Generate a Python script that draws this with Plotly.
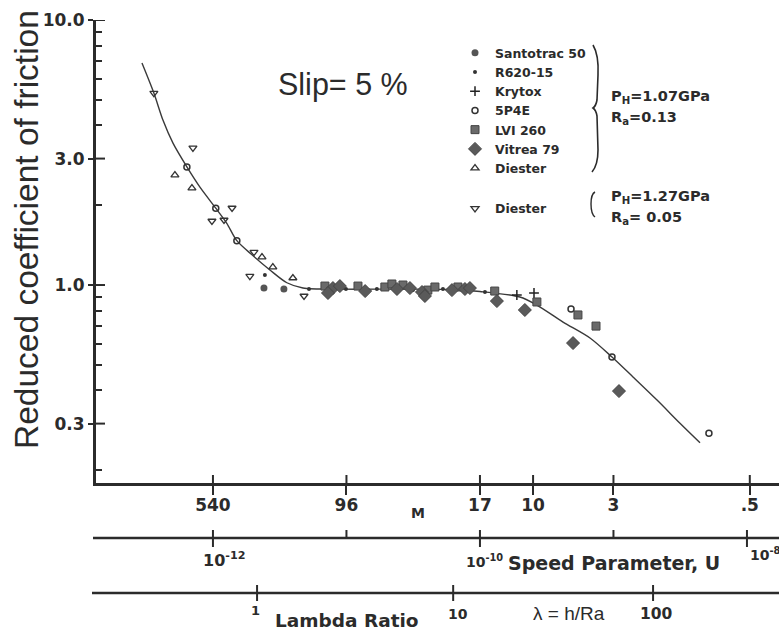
import math
import plotly.graph_objects as go

# ---------------- data (U = speed parameter, f = reduced coefficient of friction)
santotrac_u = [2.41e-12, 3.40e-12]
santotrac_f = [0.974, 0.966]

r620_u = [2.45e-12, 5.24e-12, 9.91e-12, 1.69e-11, 3.15e-11, 5.28e-11, 1.09e-10]
r620_f = [1.091, 0.966, 0.966, 0.966, 0.957, 0.966, 0.941]

krytox_u = [1.89e-10, 2.54e-10]
krytox_f = [0.917, 0.933]

p5p4e_u = [6.38e-13, 1.05e-12, 1.51e-12, 4.81e-10, 9.75e-10, 5.19e-9]
p5p4e_f = [2.79, 1.95, 1.47, 0.812, 0.535, 0.276]

lvi_u = [6.90e-12, 1.22e-11, 1.94e-11, 2.19e-11, 2.65e-11, 4.07e-11, 4.60e-11,
         6.84e-11, 1.29e-10, 2.67e-10, 5.42e-10, 7.40e-10]
lvi_f = [0.991, 0.991, 0.983, 1.009, 1.000, 0.957, 0.983,
         0.983, 0.949, 0.863, 0.771, 0.700]

vitrea_u = [7.92e-12, 7.27e-12, 8.93e-12, 1.38e-11, 2.39e-11, 2.99e-11, 3.68e-11,
            3.87e-11, 6.17e-11, 7.72e-11, 8.41e-11, 1.34e-10, 2.17e-10, 4.98e-10, 1.10e-9]
vitrea_f = [0.974, 0.933, 0.991, 0.949, 0.966, 0.974, 0.941,
            0.909, 0.957, 0.966, 0.974, 0.870, 0.805, 0.604, 0.398]

diester107_u = [5.19e-13, 6.96e-13, 2.33e-12, 2.81e-12, 3.97e-12]
diester107_f = [2.60, 2.32, 1.275, 1.169, 1.063]

diester127_u = [3.61e-13, 7.08e-13, 1.39e-12, 9.83e-13, 1.21e-12, 2.03e-12, 1.89e-12, 4.81e-12]
diester127_f = [5.30, 3.29, 1.953, 1.744, 1.759, 1.332, 1.081, 0.909]

curve_u = [2.94e-13, 3.61e-13, 4.22e-13, 5.02e-13, 6.38e-13, 7.99e-13, 1.05e-12, 1.27e-12,
           1.51e-12, 1.96e-12, 2.67e-12, 3.58e-12, 4.72e-12, 8.94e-12, 2.52e-11, 5.96e-11,
           1.0e-10, 1.99e-10, 2.67e-10, 4.19e-10, 6.67e-10, 9.75e-10, 1.40e-9, 2.12e-9,
           3.15e-9, 4.45e-9]
curve_f = [6.88, 5.30, 4.19, 3.43, 2.79, 2.34, 1.95, 1.71,
           1.47, 1.30, 1.14, 1.02, 0.975, 0.965, 0.965, 0.962,
           0.945, 0.901, 0.840, 0.725, 0.631, 0.535, 0.450, 0.368,
           0.301, 0.254]

# axis tick data
Y_TICKS = [0.3, 1.0, 3.0, 10.0]
Y_TICK_TEXT = ["0.3", "1.0", "3.0", "10.0"]
Y_MINOR = [0.2, 0.4, 0.5, 0.6, 0.7, 0.8, 0.9, 2, 4, 5, 6, 7, 8, 9]

M_LABELS = ["540", "96", "17", "10", "3", ".5"]
M_TICK_U = [1.0e-12, 1.0e-11, 1.0e-10, 2.5e-10, 1.0e-9, 1.05e-8]

U_TICK_U = [1e-12, 1e-11, 1e-10, 1e-9, 1e-8]
U_TICK_TEXT = ["10<sup>-12</sup>", "", "10<sup>-10</sup>", "", "10<sup>-8</sup>"]

LAMBDA_LABELS = ["1", "10", "100"]
LAMBDA_TICK_U = [2.14e-12, 6.3e-11, 1.98e-9]

# ---------------- layout helpers (pixel -> paper)
W, H = 779, 632
ML, MR, MT, MB = 96, 0, 20, 149
PW, PH = W - ML - MR, H - MT - MB


def px(x):
    return (x - ML) / PW


def py(y):
    return (H - MB - y) / PH


INK = "#2b2b2b"
BOLD = dict(family="DejaVu Sans", weight="bold", color=INK)

fig = go.Figure()

fig.add_trace(go.Scatter(x=curve_u, y=curve_f, mode="lines", showlegend=False,
                         line=dict(color="#3a3a3a", width=1.4, shape="spline", smoothing=0.8),
                         hoverinfo="skip"))

series = [
    ("Santotrac 50", santotrac_u, santotrac_f, dict(symbol="circle", size=7, color="#555555"), "g1"),
    ("R620-15", r620_u, r620_f, dict(symbol="circle", size=4, color="#333333"), "g1"),
    ("Krytox", krytox_u, krytox_f, dict(symbol="cross-thin", size=7, color="#222222",
                                       line=dict(width=1.5, color="#222222")), "g1"),
    ("5P4E", p5p4e_u, p5p4e_f, dict(symbol="circle-open", size=6, color="#333333",
                                   line=dict(width=1.5, color="#333333")), "g1"),
    ("LVI 260", lvi_u, lvi_f, dict(symbol="square", size=8, color="#6a6a6a",
                                  line=dict(width=1, color="#444444")), "g1"),
    ("Vitrea 79", vitrea_u, vitrea_f, dict(symbol="diamond", size=10, color="#5a5a5a",
                                          line=dict(width=1, color="#444444")), "g1"),
    ("Diester", diester107_u, diester107_f, dict(symbol="triangle-up-open", size=7, color="#333333",
                                                line=dict(width=1.3, color="#333333")), "g1"),
    ("Diester", diester127_u, diester127_f, dict(symbol="triangle-down-open", size=7, color="#333333",
                                                line=dict(width=1.3, color="#333333")), "g2"),
]
for name, xs, ys, mk, grp in series:
    fig.add_trace(go.Scatter(x=xs, y=ys, mode="markers", name=name, marker=mk,
                             legendgroup=grp))

shapes = []
annotations = []

# inside part of major y ticks
for v in Y_TICKS:
    shapes.append(dict(type="line", xref="paper", yref="y", x0=0, x1=9 / PW, y0=v, y1=v,
                       line=dict(color=INK, width=2)))
# inside part of major x (M) ticks
for v in M_TICK_U:
    shapes.append(dict(type="line", xref="x", yref="paper", x0=v, x1=v, y0=0, y1=8 / PH,
                       line=dict(color=INK, width=2)))

# Speed-parameter axis
shapes.append(dict(type="line", xref="paper", yref="paper", x0=px(93), x1=1, y0=py(538), y1=py(538),
                   line=dict(color=INK, width=2.5)))
for v, t in zip(U_TICK_U, U_TICK_TEXT):
    if t:
        y0, y1 = py(530), py(547)
    else:
        y0, y1 = py(530), py(538)
    shapes.append(dict(type="line", xref="x", yref="paper", x0=v, x1=v, y0=y0, y1=y1,
                       line=dict(color=INK, width=2)))
u_label_shift = {0: (-12, -1, 16), 2: (-16, -3, 14), 4: (1, 4, 14)}
for i, (v, t) in enumerate(zip(U_TICK_U, U_TICK_TEXT)):
    if not t:
        continue
    dx, dy, fs = u_label_shift[i]
    annotations.append(dict(x=math.log10(v), y=py(558), xref="x", yref="paper", text=t,
                            showarrow=False, xanchor="left", yanchor="middle",
                            xshift=dx, yshift=dy, font=dict(size=fs, **BOLD)))
annotations.append(dict(x=px(506), y=py(563), xref="paper", yref="paper",
                        text="Speed Parameter, U", showarrow=False, xanchor="left",
                        yanchor="middle", font=dict(size=19, **BOLD)))

# Lambda axis
shapes.append(dict(type="line", xref="paper", yref="paper", x0=px(92), x1=1, y0=py(593), y1=py(593),
                   line=dict(color=INK, width=2.5)))
for v in LAMBDA_TICK_U:
    shapes.append(dict(type="line", xref="x", yref="paper", x0=v, x1=v, y0=py(585), y1=py(601),
                       line=dict(color=INK, width=2)))
lam_label_cfg = [(-2, 610, 13), (5, 614, 14), (3, 614, 15.5)]
for v, t, (dx, yy, fs) in zip(LAMBDA_TICK_U, LAMBDA_LABELS, lam_label_cfg):
    annotations.append(dict(x=math.log10(v), y=py(yy), xref="x", yref="paper", text=t,
                            showarrow=False, xanchor="center", yanchor="middle", xshift=dx,
                            font=dict(size=fs, **BOLD)))
annotations.append(dict(x=px(273), y=py(620), xref="paper", yref="paper", text="Lambda Ratio",
                        showarrow=False, xanchor="left", yanchor="middle",
                        font=dict(size=18.5, **BOLD)))
annotations.append(dict(x=px(531), y=py(613), xref="paper", yref="paper", text="λ = h/Ra",
                        showarrow=False, xanchor="left", yanchor="middle",
                        font=dict(size=19, family="Liberation Sans", color=INK)))

# M label
annotations.append(dict(x=px(418), y=py(513), xref="paper", yref="paper", text="M",
                        showarrow=False, xanchor="center", yanchor="middle",
                        font=dict(size=14, **BOLD)))

# Y title and slip text
annotations.append(dict(x=px(26), y=py(230), xref="paper", yref="paper",
                        text="Reduced coefficient of friction", textangle=-90, showarrow=False,
                        xanchor="center", yanchor="middle",
                        font=dict(size=33.5, family="Liberation Sans", color=INK)))
annotations.append(dict(x=px(276), y=py(84), xref="paper", yref="paper", text="Slip= 5 %",
                        showarrow=False, xanchor="left", yanchor="middle",
                        font=dict(size=30.5, family="Liberation Sans", color=INK)))

# braces and conditions
brace1 = "M {} {} Q {} {} {} {} L {} {} Q {} {} {} {} Q {} {} {} {} L {} {} Q {} {} {} {}"
pts = [(593, 45), (599, 55), (598, 75), (597, 100), (596, 106), (593, 108),
       (596, 110), (597, 116), (598, 150), (598, 165), (592, 172)]
vals = []
for (a, b) in pts:
    vals += [px(a), py(b)]
shapes.append(dict(type="path", xref="paper", yref="paper", path=brace1.format(*vals),
                   line=dict(color=INK, width=1.6)))
brace2 = "M {} {} Q {} {} {} {} Q {} {} {} {}"
pts2 = [(595, 192), (591, 194), (591, 204), (591, 214), (595, 217)]
vals2 = []
for (a, b) in pts2:
    vals2 += [px(a), py(b)]
shapes.append(dict(type="path", xref="paper", yref="paper", path=brace2.format(*vals2),
                   line=dict(color=INK, width=1.4)))

cond = [("P<sub>H</sub>=1.07GPa", 97), ("R<sub>a</sub>=0.13", 118),
        ("P<sub>H</sub>=1.27GPa", 197), ("R<sub>a</sub>= 0.05", 218)]
for t, yy in cond:
    annotations.append(dict(x=px(609), y=py(yy), xref="paper", yref="paper", text=t,
                            showarrow=False, xanchor="left", yanchor="middle",
                            font=dict(size=14.5, **BOLD)))

fig.update_layout(
    width=W, height=H, autosize=False,
    margin=dict(l=ML, r=MR, t=MT, b=MB, pad=0),
    paper_bgcolor="white", plot_bgcolor="white",
    showlegend=True,
    legend=dict(x=px(455), y=py(38), xanchor="left", yanchor="top",
                bgcolor="rgba(0,0,0,0)", borderwidth=0,
                font=dict(size=12.5, **BOLD), tracegroupgap=21,
                traceorder="grouped", itemclick=False, itemdoubleclick=False),
    xaxis=dict(type="log", range=[-12.876, -7.760], showgrid=False, zeroline=False,
               showline=True, linewidth=3, linecolor=INK, mirror=False,
               tickmode="array", tickvals=M_TICK_U, ticktext=M_LABELS,
               ticks="outside", ticklen=9, tickwidth=2, tickcolor=INK,
               ticklabelstandoff=-4,
               tickfont=dict(size=17, **BOLD)),
    yaxis=dict(type="log", range=[-0.747, 1.0], showgrid=False, zeroline=False,
               showline=True, linewidth=3, linecolor=INK,
               tickmode="array", tickvals=Y_TICKS, ticktext=Y_TICK_TEXT,
               ticks="outside", ticklen=5, tickwidth=2, tickcolor=INK,
               tickfont=dict(size=17, **BOLD),
               minor=dict(tickmode="array", tickvals=Y_MINOR, ticks="inside",
                          ticklen=6, tickwidth=2, tickcolor=INK)),
    shapes=shapes,
    annotations=annotations,
)

fig.write_html("out.html")
